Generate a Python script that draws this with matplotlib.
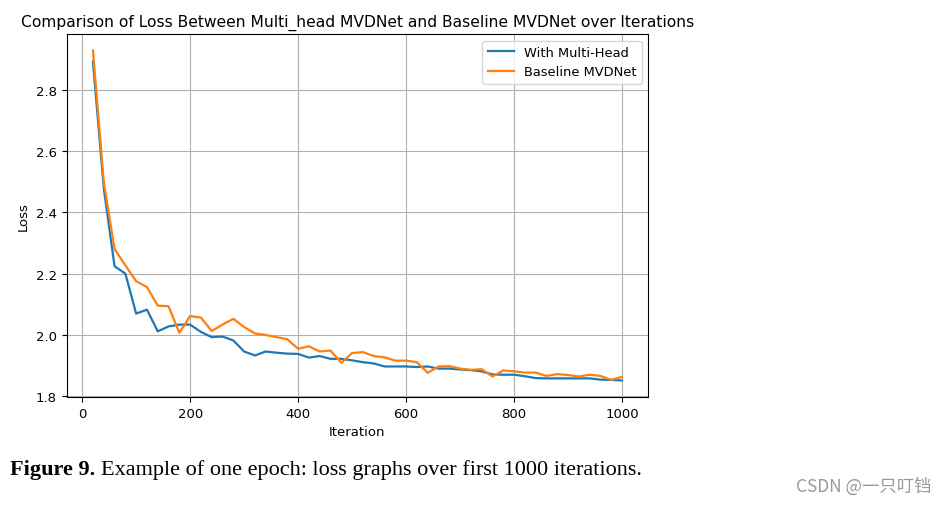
import numpy as np
import matplotlib.pyplot as plt

# iteraciones cada 20 pasos
iteraciones = np.arange(20, 1001, 20)

perdida_multihead = [2.894, 2.48, 2.224, 2.200, 2.069, 2.082, 2.011, 2.027, 2.033, 2.033,
                     2.009, 1.992, 1.994, 1.981, 1.945, 1.932, 1.945, 1.941, 1.938, 1.937,
                     1.925, 1.930, 1.921, 1.921, 1.916, 1.910, 1.906, 1.896, 1.896, 1.896,
                     1.894, 1.896, 1.889, 1.889, 1.886, 1.884, 1.880, 1.870, 1.869, 1.869,
                     1.864, 1.858, 1.857, 1.857, 1.857, 1.857, 1.857, 1.853, 1.852, 1.850]

perdida_baseline = [2.930, 2.50, 2.280, 2.227, 2.175, 2.156, 2.095, 2.093, 2.006, 2.061,
                    2.056, 2.012, 2.033, 2.052, 2.025, 2.004, 1.999, 1.992, 1.985, 1.954,
                    1.962, 1.945, 1.948, 1.908, 1.940, 1.943, 1.930, 1.926, 1.915, 1.915,
                    1.910, 1.875, 1.896, 1.897, 1.889, 1.885, 1.887, 1.863, 1.883, 1.880,
                    1.876, 1.876, 1.865, 1.871, 1.868, 1.863, 1.869, 1.865, 1.852, 1.862]

titulo = 'Comparison of Loss Between Multi_head MVDNet and Baseline MVDNet over Iterations'
pie = 'Example of one epoch: loss graphs over first 1000 iterations.'

ventana = plt.figure(figsize=(9.46, 5.06), dpi=100)
plano = ventana.add_axes([0.0703, 0.2134, 0.6152, 0.7174])

plano.plot(iteraciones, perdida_multihead, color='#1f77b4', lw=1.6, label='With Multi-Head')
plano.plot(iteraciones, perdida_baseline, color='#ff7f0e', lw=1.6, label='Baseline MVDNet')
plano.set_title(titulo, fontsize=11.15, pad=6)
plano.set_xlabel('Iteration', fontsize=9.5)
plano.set_ylabel('Loss', fontsize=9.5)
plano.tick_params(labelsize=9.5)
plano.set_yticks([1.8, 2.0, 2.2, 2.4, 2.6, 2.8])
plano.grid(True, color='#b0b0b0', lw=0.8)
plano.legend(loc='upper right', fontsize=9.4)

# pie de figura
ventana.text(0.0106, 0.062, 'Figure 9.', fontsize=16, family='Liberation Serif',
             fontweight='bold', transform=ventana.transFigure)
ventana.text(0.1065, 0.062, pie, fontsize=16, family='Liberation Serif',
             transform=ventana.transFigure)
ventana.text(0.985, 0.038, 'CSDN @一只叮铛', fontsize=12.5, color='#999999',
             family=['Noto Sans CJK SC', 'DejaVu Sans'], ha='right', va='center',
             transform=ventana.transFigure)

ventana.savefig('out.png', dpi=100)
